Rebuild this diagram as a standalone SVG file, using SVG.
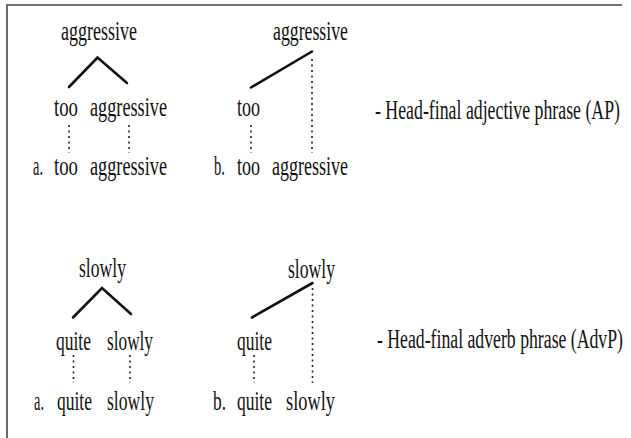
<svg xmlns="http://www.w3.org/2000/svg" width="631" height="438" viewBox="0 0 631 438">
<style>
  text { font-family: "Liberation Serif", "Times New Roman", serif; font-size: 28px; fill: #111; }
  .lbl { font-size: 27px; }
  .solid { stroke: #111; stroke-width: 2.6; fill: none; stroke-linecap: round; }
  .dot { stroke: #222; stroke-width: 1.6; fill: none; stroke-dasharray: 2 3.5; }
  .frame { stroke: #444; stroke-width: 1.6; fill: none; }
</style>
<rect width="631" height="438" fill="#fff"/>
<path class="frame" d="M7,438 V5 H622"/>

<g id="connectors">
  <polyline class="solid" points="69,87 97.5,57.5 127,83"/>
  <line class="dot" x1="69" y1="125" x2="69" y2="153"/>
  <line class="dot" x1="129" y1="125" x2="129" y2="153"/>
  <line class="solid" x1="251" y1="87.5" x2="312" y2="51.5"/>
  <line class="dot" x1="251" y1="125" x2="251" y2="153"/>
  <line class="dot" x1="312" y1="59" x2="312" y2="153"/>
  <polyline class="solid" points="73,317.5 102,288 131,314"/>
  <line class="dot" x1="73.5" y1="355" x2="73.5" y2="383"/>
  <line class="dot" x1="130" y1="355" x2="130" y2="383"/>
  <line class="solid" x1="252" y1="317.5" x2="312.5" y2="283"/>
  <line class="dot" x1="254" y1="355" x2="254" y2="383"/>
  <line class="dot" x1="312.5" y1="288" x2="312.5" y2="383"/>
</g>

<g id="ap-a-root" transform="scale(0.64,1)"><text x="95.31" y="40.5" textLength="118.75" lengthAdjust="spacingAndGlyphs">aggressive</text></g>
<g id="ap-a-too" transform="scale(0.64,1)"><text x="84.38" y="116" textLength="37.5" lengthAdjust="spacingAndGlyphs">too</text></g>
<g id="ap-a-head" transform="scale(0.64,1)"><text x="140.63" y="116" textLength="120.31" lengthAdjust="spacingAndGlyphs">aggressive</text></g>
<g id="ap-a-words" transform="scale(0.64,1)">
  <text x="51.56" y="175.5" textLength="15.63" lengthAdjust="spacingAndGlyphs">a.</text>
  <text x="84.38" y="175.5" textLength="37.5" lengthAdjust="spacingAndGlyphs">too</text>
  <text x="140.63" y="175.5" textLength="120.31" lengthAdjust="spacingAndGlyphs">aggressive</text>
</g>

<g id="ap-b-root" transform="scale(0.64,1)"><text x="426.56" y="40.5" textLength="117.19" lengthAdjust="spacingAndGlyphs">aggressive</text></g>
<g id="ap-b-too" transform="scale(0.64,1)"><text x="370.31" y="116" textLength="35.94" lengthAdjust="spacingAndGlyphs">too</text></g>
<g id="ap-b-words" transform="scale(0.64,1)">
  <text x="334.38" y="175.5" textLength="17.19" lengthAdjust="spacingAndGlyphs">b.</text>
  <text x="370.31" y="175.5" textLength="35.94" lengthAdjust="spacingAndGlyphs">too</text>
  <text x="425" y="175.5" textLength="118.75" lengthAdjust="spacingAndGlyphs">aggressive</text>
</g>
<g id="ap-label" transform="scale(0.64,1)"><text class="lbl" x="585.94" y="119" textLength="382.81" lengthAdjust="spacingAndGlyphs">- Head-final adjective phrase (AP)</text></g>

<g id="advp-a-root" transform="scale(0.64,1)"><text x="123.44" y="277" textLength="73.44" lengthAdjust="spacingAndGlyphs">slowly</text></g>
<g id="advp-a-quite" transform="scale(0.64,1)"><text x="87.5" y="350" textLength="54.69" lengthAdjust="spacingAndGlyphs">quite</text></g>
<g id="advp-a-head" transform="scale(0.64,1)"><text x="167.19" y="350" textLength="71.88" lengthAdjust="spacingAndGlyphs">slowly</text></g>
<g id="advp-a-words" transform="scale(0.64,1)">
  <text x="53.13" y="410" textLength="15.63" lengthAdjust="spacingAndGlyphs">a.</text>
  <text x="89.06" y="410" textLength="54.69" lengthAdjust="spacingAndGlyphs">quite</text>
  <text x="167.19" y="410" textLength="73.44" lengthAdjust="spacingAndGlyphs">slowly</text>
</g>

<g id="advp-b-root" transform="scale(0.64,1)"><text x="450" y="278" textLength="73.44" lengthAdjust="spacingAndGlyphs">slowly</text></g>
<g id="advp-b-quite" transform="scale(0.64,1)"><text x="370.31" y="350" textLength="54.69" lengthAdjust="spacingAndGlyphs">quite</text></g>
<g id="advp-b-words" transform="scale(0.64,1)">
  <text x="332.81" y="410" textLength="20.31" lengthAdjust="spacingAndGlyphs">b.</text>
  <text x="370.31" y="410" textLength="54.69" lengthAdjust="spacingAndGlyphs">quite</text>
  <text x="446.88" y="410" textLength="76.56" lengthAdjust="spacingAndGlyphs">slowly</text>
</g>
<g id="advp-label" transform="scale(0.64,1)"><text class="lbl" x="589.06" y="348" textLength="384.38" lengthAdjust="spacingAndGlyphs">- Head-final adverb phrase (AdvP)</text></g>
</svg>
